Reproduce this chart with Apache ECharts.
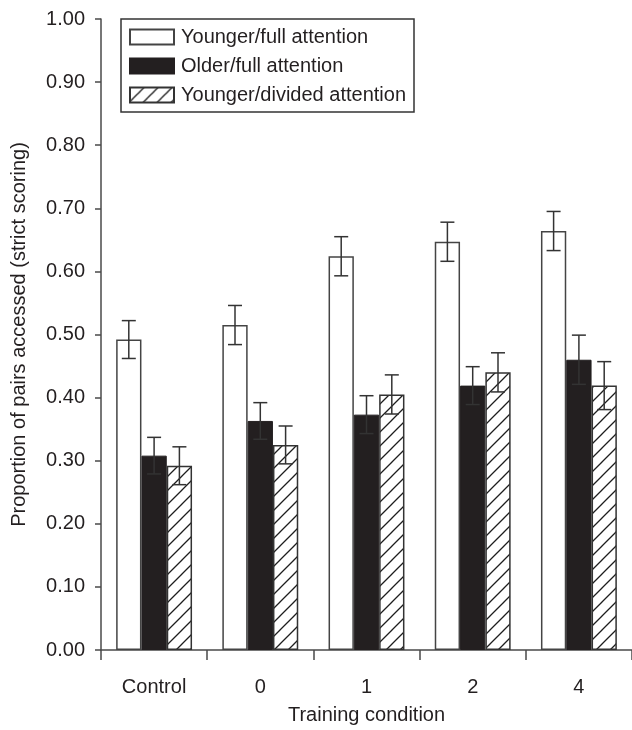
<!DOCTYPE html>
<html>
<head>
<meta charset="utf-8">
<script src="https://cdn.jsdelivr.net/npm/echarts@6/dist/echarts.min.js"></script>
<style>
html,body{margin:0;padding:0;background:#fff;}
#chart{width:632px;height:730px;}
</style>
</head>
<body>
<div id="chart"></div>
<script>
// ---- data ----
var categories = ['Control', '0', '1', '2', '4'];
var seriesNames = ['Younger/full attention', 'Older/full attention', 'Younger/divided attention'];
var youngerFull = [0.492, 0.515, 0.624, 0.647, 0.664];
var youngerFullErr = [0.030, 0.031, 0.031, 0.031, 0.031];
var olderFull = [0.308, 0.363, 0.373, 0.419, 0.460];
var olderFullErr = [0.029, 0.029, 0.030, 0.030, 0.039];
var youngerDivided = [0.292, 0.325, 0.405, 0.440, 0.419];
var youngerDividedErr = [0.030, 0.030, 0.031, 0.031, 0.038];
var yTickValues = [0, 0.1, 0.2, 0.3, 0.4, 0.5, 0.6, 0.7, 0.8, 0.9, 1.0];

var FONT = "'Liberation Sans', Arial, Helvetica, sans-serif";
var INK = '#231f20';
var AXIS = '#4a4a4a';
var BAR_W = 25.3;

// hatch pattern
function makeHatch() {
  var s = 14;
  var c = document.createElement('canvas');
  c.width = s; c.height = s;
  var g = c.getContext('2d');
  g.fillStyle = '#ffffff';
  g.fillRect(0, 0, s, s);
  g.strokeStyle = '#1e1e1e';
  g.lineWidth = 1.3;
  g.beginPath();
  g.moveTo(0, s); g.lineTo(s, 0);
  g.moveTo(-s / 2, s / 2); g.lineTo(s / 2, -s / 2);
  g.moveTo(s / 2, s + s / 2); g.lineTo(s + s / 2, s / 2);
  g.stroke();
  return c;
}
var hatch = { image: makeHatch(), repeat: 'repeat' };

var means = [youngerFull, olderFull, youngerDivided];
var errs = [youngerFullErr, olderFullErr, youngerDividedErr];
var errData = [];
for (var s = 0; s < 3; s++) {
  for (var i = 0; i < categories.length; i++) {
    errData.push([i, s, means[s][i] - errs[s][i], means[s][i] + errs[s][i]]);
  }
}

var styles = [
  { color: '#ffffff', borderColor: '#444', borderWidth: 1.5 },
  { color: INK, borderColor: INK, borderWidth: 1 },
  { color: hatch, borderColor: '#333', borderWidth: 1.5 }
];

var barSeries = seriesNames.map(function (n, k) {
  return {
    name: n,
    type: 'bar',
    data: means[k],
    barWidth: BAR_W,
    barGap: '0%',
    itemStyle: styles[k],
    emphasis: { disabled: true },
    animation: false,
    z: 2
  };
});

var errSeries = {
  type: 'custom',
  name: 'err',
  data: errData,
  encode: { x: 0, y: [2, 3] },
  z: 5,
  animation: false,
  silent: true,
  renderItem: function (params, api) {
    var cat = api.value(0);
    var sIdx = api.value(1);
    var lo = api.coord([cat, api.value(2)]);
    var hi = api.coord([cat, api.value(3)]);
    var x = lo[0] + (sIdx - 1) * BAR_W;
    var hw = 7;
    var st = { stroke: '#333', lineWidth: 1.5 };
    return {
      type: 'group',
      children: [
        { type: 'line', shape: { x1: x, y1: lo[1], x2: x, y2: hi[1] }, style: st },
        { type: 'line', shape: { x1: x - hw, y1: hi[1], x2: x + hw, y2: hi[1] }, style: st },
        { type: 'line', shape: { x1: x - hw, y1: lo[1], x2: x + hw, y2: lo[1] }, style: st }
      ]
    };
  }
};

var chart = echarts.init(document.getElementById('chart'), null, { renderer: 'canvas' });
chart.setOption({
  backgroundColor: '#fff',
  animation: false,
  textStyle: { fontFamily: FONT, color: INK },
  grid: { left: 101, top: 19, width: 532, height: 635, containLabel: false },
  legend: {
    data: seriesNames,
    orient: 'vertical',
    left: 121,
    top: 19,
    padding: [8, 8, 7, 8],
    itemWidth: 44,
    itemHeight: 15,
    itemGap: 9,
    borderColor: '#333',
    borderWidth: 1.5,
    borderRadius: 0,
    icon: 'rect',
    selectedMode: false,
    textStyle: { fontFamily: FONT, fontSize: 20, color: INK, padding: [0, 0, 0, 2] }
  },
  xAxis: {
    type: 'category',
    data: categories,
    boundaryGap: true,
    name: 'Training condition',
    nameLocation: 'middle',
    nameGap: 55,
    nameTextStyle: { fontFamily: FONT, fontSize: 20, color: INK },
    axisLine: { lineStyle: { color: AXIS, width: 1.5 } },
    axisTick: { show: true, length: 10, alignWithLabel: false, interval: 0, lineStyle: { color: AXIS, width: 1.5 } },
    axisLabel: { fontFamily: FONT, fontSize: 20, color: INK, margin: 27, interval: 0 },
    splitLine: { show: false }
  },
  yAxis: {
    type: 'value',
    min: yTickValues[0],
    max: yTickValues[yTickValues.length - 1],
    interval: 0.1,
    name: 'Proportion of pairs accessed (strict scoring)',
    nameLocation: 'middle',
    nameGap: 72,
    nameRotate: 90,
    nameTextStyle: { fontFamily: FONT, fontSize: 20, color: INK },
    axisLine: { show: true, lineStyle: { color: AXIS, width: 1.5 } },
    axisTick: { show: true, length: 6, inside: false, lineStyle: { color: AXIS, width: 1.5 } },
    axisLabel: {
      fontFamily: FONT, fontSize: 20, color: INK, margin: 16,
      formatter: function (v) { return v.toFixed(2); }
    },
    splitLine: { show: false }
  },
  series: barSeries.concat([errSeries])
});
</script>
</body>
</html>
